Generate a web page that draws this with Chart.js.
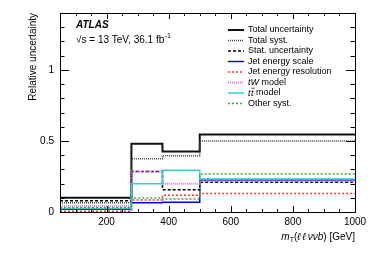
<!DOCTYPE html>
<html>
<head>
<meta charset="utf-8">
<script src="https://cdn.jsdelivr.net/npm/chart.js@4.4.0/dist/chart.umd.min.js"></script>
<style>
  html, body { margin: 0; padding: 0; background: #fff; }
  #wrap { width: 374px; height: 253px; }
</style>
</head>
<body>
<div id="wrap"><canvas id="uncChart" width="374" height="253"></canvas></div>
<script>
// bin edges in m_T(llvvb) [GeV]
const binEdges = [50, 280, 380, 500, 1000];

// relative uncertainty per bin
const totalUnc = [0.10, 0.48, 0.425, 0.545];
const totalSyst = [0.065, 0.375, 0.395, 0.50];
const statUnc = [0.08, 0.285, 0.157, 0.21];
const jetScale = [0.02, 0.065, 0.069, 0.226];
const jetRes = [0.005, 0.085, 0.118, 0.13];
const twModel = [0.04, 0.285, 0.198, 0.217];
const ttModel = [0.025, 0.198, 0.293, 0.233];
const otherSyst = [0.03, 0.098, 0.092, 0.267];

const legendLabels = ["Total uncertainty", "Total syst.", "Stat. uncertainty", "Jet energy scale",
  "Jet energy resolution", "tW model", "tt\u0304 model", "Other syst."];
const yLabels = ["0", "0.5", "1"];
const xLabels = ["200", "400", "600", "800", "1000"];

const FONT = "'Liberation Sans', Arial, Helvetica, sans-serif";

// histogram as a stepped line: left edge of each bin + closing point at the last edge
function histPoints(vals) {
  return binEdges.map((e, i) => ({ x: e, y: vals[Math.min(i, vals.length - 1)] }));
}

function ds(label, vals, color, width, dash) {
  return {
    label: label,
    data: histPoints(vals),
    borderColor: color,
    borderWidth: width,
    borderDash: dash,
    borderCapStyle: "butt",
    stepped: "before",
    pointRadius: 0,
    fill: false,
  };
}

const datasets = [
  ds(legendLabels[0], totalUnc, "#111", 2, []),
  ds(legendLabels[1], totalSyst, "#444", 1.5, [1, 1]),
  ds(legendLabels[2], statUnc, "#000", 1.5, [3, 2]),
  ds(legendLabels[3], jetScale, "#0000ee", 1.5, []),
  ds(legendLabels[4], jetRes, "#ff3030", 1.5, [2, 2]),
  ds(legendLabels[5], twModel, "#e070f0", 2, [1, 1]),
  ds(legendLabels[6], ttModel, "#30d0d0", 1.5, []),
  ds(legendLabels[7], otherSyst, "#30b030", 1.5, [2, 2]),
];
// later in the legend = drawn on top, like ROOT
datasets.forEach((d, i) => { d.order = datasets.length - i; });

// draw text pieces left to right; pieces: {t, font, dy}
function drawPieces(ctx, pieces, x, y) {
  pieces.forEach(p => {
    ctx.font = p.font;
    ctx.fillText(p.t, x, y + (p.dy || 0));
    x += ctx.measureText(p.t).width;
  });
  return x;
}
function widthOf(ctx, pieces) {
  let w = 0;
  pieces.forEach(p => { ctx.font = p.font; w += ctx.measureText(p.t).width; });
  return w;
}

const decor = {
  id: "decor",
  afterDraw(chart) {
    const { ctx, chartArea: a, scales: { x, y } } = chart;
    ctx.save();
    ctx.strokeStyle = "#000";
    ctx.lineWidth = 1;
    ctx.setLineDash([]);
    ctx.strokeRect(a.left + 0.5, a.top + 0.5, a.right - a.left, a.bottom - a.top);

    // inward ticks on all four sides
    ctx.beginPath();
    x.ticks.forEach(t => {
      const px = Math.round(x.getPixelForValue(t.value)) + 0.5;
      const len = t.value % 200 === 0 ? 6 : 3;
      ctx.moveTo(px, a.bottom); ctx.lineTo(px, a.bottom - len);
      ctx.moveTo(px, a.top); ctx.lineTo(px, a.top + len);
    });
    y.ticks.forEach(t => {
      const py = Math.round(y.getPixelForValue(t.value)) + 0.5;
      const major = [0, 0.5, 1].some(v => Math.abs(v - t.value) < 1e-6);
      const len = major ? 9 : 4.5;
      ctx.moveTo(a.left, py); ctx.lineTo(a.left + len, py);
      ctx.moveTo(a.right, py); ctx.lineTo(a.right - len, py);
    });
    ctx.stroke();

    ctx.fillStyle = "#000";
    ctx.textBaseline = "middle";
    ctx.textAlign = "left";

    // ATLAS label
    ctx.font = "italic bold 10px " + FONT;
    ctx.fillText("ATLAS", 76, 25);
    const x1 = drawPieces(ctx, [{ t: "\u221As = 13 TeV, 36.1 fb", font: "10px " + FONT }], 76, 40);
    drawPieces(ctx, [{ t: "-1", font: "7px " + FONT, dy: -4 }], x1 + 0.5, 40);

    // y title, aligned to the top of the axis
    ctx.save();
    ctx.translate(33, a.top);
    ctx.rotate(-Math.PI / 2);
    ctx.textAlign = "right";
    ctx.font = "10px " + FONT;
    ctx.fillText("Relative uncertainty", 0, 0);
    ctx.restore();

    // x title, aligned to the right end of the axis
    const it = "italic 10px " + FONT, rm = "10px " + FONT;
    const xt = [
      { t: "m", font: it }, { t: "T", font: "7px " + FONT, dy: 3 },
      { t: "(", font: rm }, { t: "\u2113\u2009\u2113\u2009\u03BD\u03BDb", font: it }, { t: ") [GeV]", font: rm },
    ];
    drawPieces(ctx, xt, a.right - widthOf(ctx, xt), 237);

    // legend
    const lf = "9px " + FONT, lfi = "italic 9px " + FONT;
    chart.data.datasets.forEach((d, i) => {
      const yy = 30 + i * 10.5;
      ctx.save();
      ctx.strokeStyle = d.borderColor;
      ctx.lineWidth = d.borderWidth;
      ctx.setLineDash(d.borderDash);
      ctx.beginPath();
      ctx.moveTo(228, yy); ctx.lineTo(244, yy);
      ctx.stroke();
      ctx.restore();
      const lbl = d.label;
      if (lbl.startsWith("tW")) {
        drawPieces(ctx, [{ t: "tW", font: lfi }, { t: lbl.slice(2), font: lf }], 248, yy);
      } else if (lbl.startsWith("tt\u0304")) {
        ctx.font = lfi;
        const w1 = ctx.measureText("t").width;
        ctx.fillText("t", 248, yy);
        ctx.fillText("t", 248 + w1 + 0.5, yy);
        ctx.beginPath();
        ctx.lineWidth = 0.8;
        ctx.moveTo(248 + w1 + 1, yy - 4.8); ctx.lineTo(248 + 2 * w1 + 1.5, yy - 4.8);
        ctx.stroke();
        ctx.font = lf;
        ctx.fillText(lbl.slice(3), 248 + 2 * w1 + 0.5, yy);
      } else {
        ctx.font = lf;
        ctx.fillText(lbl, 248, yy);
      }
    });
    ctx.restore();
  },
};

new Chart(document.getElementById("uncChart"), {
  type: "line",
  data: { datasets: datasets },
  options: {
    responsive: false,
    animation: false,
    devicePixelRatio: 1,
    layout: { padding: { left: 0, top: 13, right: 19, bottom: 0 } },
    plugins: { legend: { display: false }, tooltip: { enabled: false } },
    scales: {
      x: {
        type: "linear",
        min: binEdges[0],
        max: binEdges[binEdges.length - 1],
        grid: { display: false, drawTicks: false },
        border: { display: false },
        ticks: {
          stepSize: 50,
          autoSkip: false,
          maxRotation: 0,
          padding: 4,
          color: "#000",
          font: { family: FONT, size: 10 },
          callback: v => (xLabels.includes(String(v)) ? String(v) : ""),
        },
        afterFit: s => { s.height = 41; },
      },
      y: {
        min: 0,
        max: 1.4,
        grid: { display: false, drawTicks: false },
        border: { display: false },
        ticks: {
          stepSize: 0.1,
          autoSkip: false,
          padding: 6,
          color: "#000",
          font: { family: FONT, size: 10 },
          callback: v => {
            const s = String(Math.round(v * 10) / 10);
            return yLabels.includes(s) ? s : "";
          },
        },
        afterFit: s => { s.width = 60; },
      },
    },
  },
  plugins: [decor],
});
</script>
</body>
</html>
